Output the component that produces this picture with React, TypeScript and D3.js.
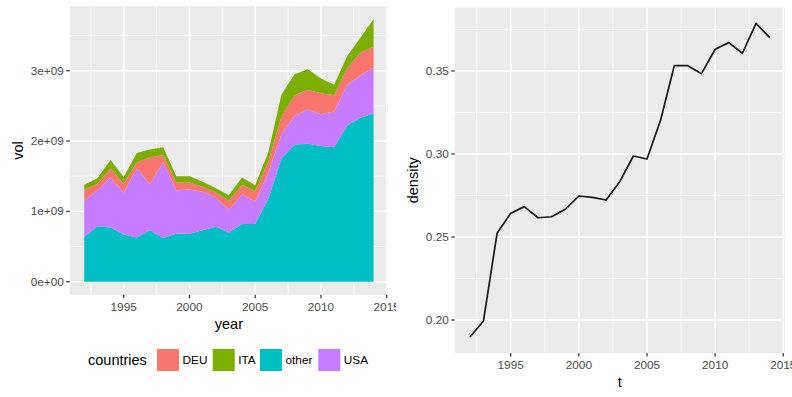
import React from "react";
import * as d3 from "d3";

const years = [1992,1993,1994,1995,1996,1997,1998,1999,2000,2001,2002,2003,2004,2005,2006,2007,2008,2009,2010,2011,2012,2013,2014];
const otherVol = [0.64,0.79,0.77,0.67,0.63,0.73,0.62,0.68,0.68,0.73,0.78,0.70,0.82,0.82,1.18,1.75,1.95,1.96,1.93,1.91,2.22,2.33,2.39].map(v => v * 1e9);
const usaVol = [0.51,0.51,0.71,0.60,0.98,0.66,1.08,0.62,0.63,0.55,0.42,0.32,0.42,0.32,0.37,0.35,0.41,0.49,0.45,0.51,0.58,0.60,0.65].map(v => v * 1e9);
const deuVol = [0.16,0.09,0.13,0.12,0.09,0.38,0.10,0.11,0.10,0.07,0.07,0.13,0.14,0.15,0.16,0.25,0.29,0.28,0.30,0.23,0.24,0.33,0.30].map(v => v * 1e9);
const itaVol = [0.07,0.08,0.12,0.10,0.13,0.11,0.11,0.09,0.09,0.07,0.06,0.08,0.10,0.08,0.13,0.31,0.30,0.29,0.21,0.15,0.17,0.21,0.39].map(v => v * 1e9);
const density = [0.1896,0.1994,0.2522,0.2643,0.2683,0.2616,0.2622,0.2667,0.2747,0.2739,0.2723,0.2833,0.2988,0.2970,0.3205,0.3532,0.3532,0.3484,0.3631,0.3671,0.3607,0.3787,0.3701];

const xTicks = [1995, 2000, 2005, 2010, 2015];
const xTickLabels = ["1995", "2000", "2005", "2010", "2015"];
const volTicks = [0, 1e9, 2e9, 3e9];
const volTickLabels = ["0e+00", "1e+09", "2e+09", "3e+09"];
const densTicks = [0.2, 0.25, 0.3, 0.35];
const densTickLabels = ["0.20", "0.25", "0.30", "0.35"];

const legendKeys = ["DEU", "ITA", "other", "USA"];
const colors: Record<string, string> = { DEU: "#F8766D", ITA: "#7CAE00", other: "#00BFC4", USA: "#C77CFF" };
const stackOrder = ["other", "USA", "DEU", "ITA"];

const FONT = "'Liberation Sans', Arial, Helvetica, sans-serif";
const PANEL_BG = "#EBEBEB";
const TICK_COL = "#4D4D4D";

export default function App() {
  // Left panel scales
  const xL = d3.scaleLinear().domain([1995, 2015]).range([123.7, 386.7]);
  const yL = d3.scaleLinear().domain([0, 3e9]).range([281.7, 70.7]);
  const xExt = [1992 - 1.1, 2014 + 1.1];
  const maxStack = d3.max(years.map((_, i) => otherVol[i] + usaVol[i] + deuVol[i] + itaVol[i])) as number;
  const yExtL = [-0.05 * maxStack, maxStack * 1.05];
  const lx0 = xL(xExt[0]), lx1 = xL(xExt[1]);
  const ly0 = yL(yExtL[1]), ly1 = yL(yExtL[0]);

  const table = years.map((yr, i) => ({ year: yr, other: otherVol[i], USA: usaVol[i], DEU: deuVol[i], ITA: itaVol[i] }));
  const series = d3.stack<any>().keys(stackOrder)(table);
  const area = d3.area<any>().x(d => xL(d.data.year)).y0(d => yL(d[0])).y1(d => yL(d[1]));

  const xMinorL = [1992.5, 1997.5, 2002.5, 2007.5, 2012.5];
  const yMinorL = [0.5e9, 1.5e9, 2.5e9, 3.5e9];

  // Right panel scales
  const xR = d3.scaleLinear().domain([1995, 2015]).range([510.7, 783.3]);
  const yR = d3.scaleLinear().domain([0.2, 0.35]).range([320, 71]);
  const dMin = d3.min(density) as number, dMax = d3.max(density) as number;
  const dr = dMax - dMin;
  const rx0 = xR(xExt[0]), rx1 = xR(xExt[1]);
  const ry0 = yR(dMax + 0.05 * dr), ry1 = yR(dMin - 0.05 * dr);
  const line = d3.line<number>().x((_, i) => xR(years[i])).y(d => yR(d));
  const yMinorR = [0.175, 0.225, 0.275, 0.325, 0.375].filter(v => yR(v) > ry0 && yR(v) < ry1);

  // Legend layout
  const legY = 360;
  const keyX = [157, 212.7, 260, 318.3];
  const keySize = 22;

  return (
    <svg width={792} height={397} style={{ position: "absolute", left: 0, top: 0, background: "#fff" }} fontFamily={FONT}>
      <defs>
        <clipPath id="clipL"><rect x={0} y={0} width={396} height={397} /></clipPath>
      </defs>
      {/* LEFT PANEL */}
      <g clipPath="url(#clipL)">
        <rect x={lx0} y={ly0} width={lx1 - lx0} height={ly1 - ly0} fill={PANEL_BG} />
        {yMinorL.filter(v => yL(v) > ly0).map(v => (
          <line key={"yml" + v} x1={lx0} x2={lx1} y1={yL(v)} y2={yL(v)} stroke="#fff" strokeWidth={0.7} />
        ))}
        {xMinorL.map(v => (
          <line key={"xml" + v} x1={xL(v)} x2={xL(v)} y1={ly0} y2={ly1} stroke="#fff" strokeWidth={0.7} />
        ))}
        {volTicks.map(v => (
          <line key={"ygl" + v} x1={lx0} x2={lx1} y1={yL(v)} y2={yL(v)} stroke="#fff" strokeWidth={1.4} />
        ))}
        {xTicks.map(v => (
          <line key={"xgl" + v} x1={xL(v)} x2={xL(v)} y1={ly0} y2={ly1} stroke="#fff" strokeWidth={1.4} />
        ))}
        {series.map(s => (
          <path key={s.key} d={area(s as any) as string} fill={colors[s.key]} />
        ))}
        {volTicks.map((v, i) => (
          <g key={"ytl" + v}>
            <line x1={lx0 - 3.5} x2={lx0} y1={yL(v)} y2={yL(v)} stroke="#333" strokeWidth={1.2} />
            <text x={lx0 - 6} y={yL(v)} dy="0.35em" textAnchor="end" fontSize={11.8} fill={TICK_COL}>{volTickLabels[i]}</text>
          </g>
        ))}
        {xTicks.map((v, i) => (
          <g key={"xtl" + v}>
            <line x1={xL(v)} x2={xL(v)} y1={ly1} y2={ly1 + 3.5} stroke="#333" strokeWidth={1.2} />
            <text x={xL(v)} y={306.5} dy="0.35em" textAnchor="middle" fontSize={11.8} fill={TICK_COL}>{xTickLabels[i]}</text>
          </g>
        ))}
        <text x={(lx0 + lx1) / 2} y={323.5} dy="0.35em" textAnchor="middle" fontSize={14.5} fill="#000">year</text>
        <text transform={`translate(18,${(ly0 + ly1) / 2}) rotate(-90)`} dy="0.35em" textAnchor="middle" fontSize={14.5} fill="#000">vol</text>
        {/* legend */}
        <text x={88} y={legY} dy="0.35em" fontSize={14.5} fill="#000">countries</text>
        {legendKeys.map((k, i) => (
          <g key={"leg" + k}>
            <rect x={keyX[i]} y={legY - keySize / 2} width={keySize} height={keySize} fill={colors[k]} />
            <text x={keyX[i] + keySize + 3.5} y={legY} dy="0.35em" fontSize={11.8} fill="#000">{k}</text>
          </g>
        ))}
      </g>

      {/* RIGHT PANEL */}
      <g>
        <rect x={rx0} y={ry0} width={rx1 - rx0} height={ry1 - ry0} fill={PANEL_BG} />
        {yMinorR.map(v => (
          <line key={"ymr" + v} x1={rx0} x2={rx1} y1={yR(v)} y2={yR(v)} stroke="#fff" strokeWidth={0.7} />
        ))}
        {xMinorL.map(v => (
          <line key={"xmr" + v} x1={xR(v)} x2={xR(v)} y1={ry0} y2={ry1} stroke="#fff" strokeWidth={0.7} />
        ))}
        {densTicks.map(v => (
          <line key={"ygr" + v} x1={rx0} x2={rx1} y1={yR(v)} y2={yR(v)} stroke="#fff" strokeWidth={1.4} />
        ))}
        {xTicks.map(v => (
          <line key={"xgr" + v} x1={xR(v)} x2={xR(v)} y1={ry0} y2={ry1} stroke="#fff" strokeWidth={1.4} />
        ))}
        <path d={line(density) as string} fill="none" stroke="#1a1a1a" strokeWidth={1.7} strokeLinejoin="round" />
        {densTicks.map((v, i) => (
          <g key={"ytr" + v}>
            <line x1={rx0 - 3.5} x2={rx0} y1={yR(v)} y2={yR(v)} stroke="#333" strokeWidth={1.2} />
            <text x={rx0 - 6} y={yR(v)} dy="0.35em" textAnchor="end" fontSize={11.8} fill={TICK_COL}>{densTickLabels[i]}</text>
          </g>
        ))}
        {xTicks.map((v, i) => (
          <g key={"xtr" + v}>
            <line x1={xR(v)} x2={xR(v)} y1={ry1} y2={ry1 + 3.5} stroke="#333" strokeWidth={1.2} />
            <text x={xR(v)} y={365} dy="0.35em" textAnchor="middle" fontSize={11.8} fill={TICK_COL}>{xTickLabels[i]}</text>
          </g>
        ))}
        <text x={(rx0 + rx1) / 2} y={381.5} dy="0.35em" textAnchor="middle" fontSize={14.5} fill="#000">t</text>
        <text transform={`translate(413,${(ry0 + ry1) / 2}) rotate(-90)`} dy="0.35em" textAnchor="middle" fontSize={14.5} fill="#000">density</text>
      </g>
    </svg>
  );
}
